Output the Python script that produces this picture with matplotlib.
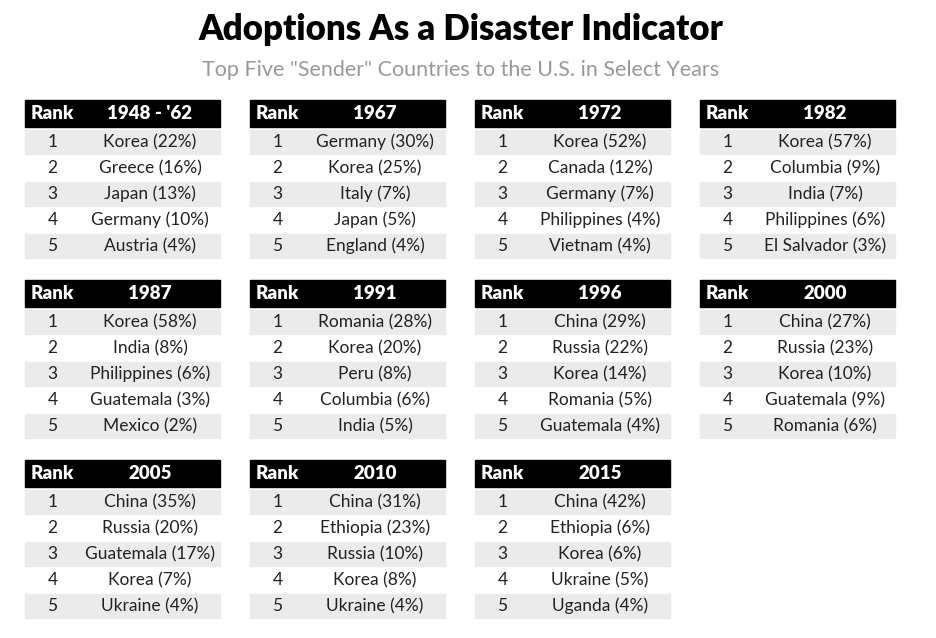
import matplotlib
matplotlib.use('Agg')
import matplotlib.pyplot as plt
from matplotlib.patches import Rectangle

plt.rcParams['font.family'] = ['Lato', 'DejaVu Sans']

years = ["1948 - '62", "1967", "1972", "1982",
         "1987", "1991", "1996", "2000",
         "2005", "2010", "2015"]
countries = [
    ["Korea (22%)", "Greece (16%)", "Japan (13%)", "Germany (10%)", "Austria (4%)"],
    ["Germany (30%)", "Korea (25%)", "Italy (7%)", "Japan (5%)", "England (4%)"],
    ["Korea (52%)", "Canada (12%)", "Germany (7%)", "Philippines (4%)", "Vietnam (4%)"],
    ["Korea (57%)", "Columbia (9%)", "India (7%)", "Philippines (6%)", "El Salvador (3%)"],
    ["Korea (58%)", "India (8%)", "Philippines (6%)", "Guatemala (3%)", "Mexico (2%)"],
    ["Romania (28%)", "Korea (20%)", "Peru (8%)", "Columbia (6%)", "India (5%)"],
    ["China (29%)", "Russia (22%)", "Korea (14%)", "Romania (5%)", "Guatemala (4%)"],
    ["China (27%)", "Russia (23%)", "Korea (10%)", "Guatemala (9%)", "Romania (6%)"],
    ["China (35%)", "Russia (20%)", "Guatemala (17%)", "Korea (7%)", "Ukraine (4%)"],
    ["China (31%)", "Ethiopia (23%)", "Russia (10%)", "Korea (8%)", "Ukraine (4%)"],
    ["China (42%)", "Ethiopia (6%)", "Korea (6%)", "Ukraine (5%)", "Uganda (4%)"],
]

W, H = 937, 638
fig = plt.figure(figsize=(W / 100, H / 100), dpi=100)
ax = fig.add_axes([0, 0, 1, 1])
ax.set_xlim(0, W); ax.set_ylim(H, 0); ax.axis('off')

ax.text(W / 2 - 8, 30, "Adoptions As a Disaster Indicator", ha='center', va='center',
        fontsize=25, fontweight='heavy', color='black')
ax.text(W / 2 - 8, 70, 'Top Five "Sender" Countries to the U.S. in Select Years',
        ha='center', va='center', fontsize=15.5, color='#999999')

col_x = [25, 250, 475, 700]
row_y = [100, 280, 460]
tw, rank_w, hh, rh = 195, 55, 27, 26

for i, (yr, names) in enumerate(zip(years, countries)):
    x0 = col_x[i % 4]; y0 = row_y[i // 4]
    ax.add_patch(Rectangle((x0, y0), tw, hh, color='black'))
    ax.text(x0 + rank_w / 2, y0 + hh / 2, "Rank", ha='center', va='center',
            fontsize=13.5, fontweight='heavy', color='white')
    ax.text(x0 + rank_w + (tw - rank_w) / 2, y0 + hh / 2, yr, ha='center', va='center',
            fontsize=13.5, fontweight='heavy', color='white')
    for r, name in enumerate(names):
        ry = y0 + hh + 3 + r * rh
        if r % 2 == 0:
            ax.add_patch(Rectangle((x0, ry), tw, rh - 2, color='#ebebeb'))
        cy = ry + (rh - 2) / 2
        ax.text(x0 + rank_w / 2, cy, str(r + 1), ha='center', va='center',
                fontsize=12.5, color='#222222')
        ax.text(x0 + rank_w + (tw - rank_w) / 2, cy, name, ha='center', va='center',
                fontsize=12.5, color='#222222')

fig.savefig('out.png', dpi=100, facecolor='white')
